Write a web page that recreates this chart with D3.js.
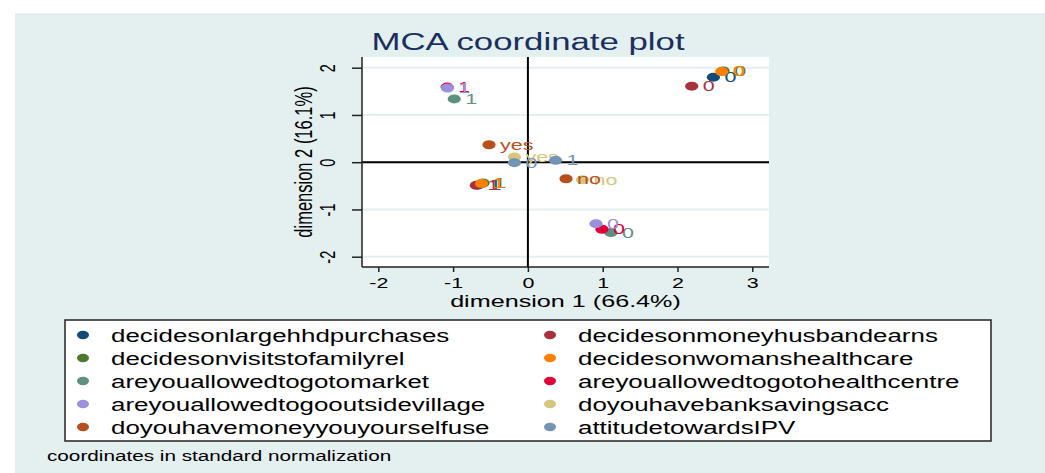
<!DOCTYPE html>
<html>
<head>
<meta charset="utf-8">
<script src="https://cdn.jsdelivr.net/npm/d3@7"></script>
<style>
  html, body { margin: 0; padding: 0; background: #fff; }
  text { font-family: "Liberation Sans", Arial, Helvetica, sans-serif; }
</style>
</head>
<body>
<div id="chart"></div>
<script>
// variables, in Stata plotting order (legend is filled row by row)
const variables = [
  'decidesonlargehhdpurchases', 'decidesonmoneyhusbandearns',
  'decidesonvisitstofamilyrel', 'decidesonwomanshealthcare',
  'areyouallowedtogotomarket', 'areyouallowedtogotohealthcentre',
  'areyouallowedtogooutsidevillage', 'doyouhavebanksavingsacc',
  'doyouhavemoneyyouyourselfuse', 'attitudetowardsIPV'
];
const categories = [
  ['0', '1'], ['0', '1'], ['0', '1'], ['0', '1'], ['0', '1'],
  ['0', '1'], ['0', '1'], ['no', 'yes'], ['no', 'yes'], ['0', '1']
];
const dim1 = [
  [2.48, -0.66], [2.19, -0.69], [2.61, -0.60], [2.59, -0.62], [1.11, -0.985],
  [0.99, -1.08], [0.91, -1.075], [0.73, -0.18], [0.51, -0.52], [-0.18, 0.37]
];
const dim2 = [
  [1.80, -0.48], [1.61, -0.49], [1.93, -0.44], [1.92, -0.45], [-1.49, 1.34],
  [-1.42, 1.59], [-1.30, 1.57], [-0.37, 0.11], [-0.35, 0.37], [-0.01, 0.04]
];
const xTicks = [-2, -1, 0, 1, 2, 3];
const yTicks = [-2, -1, 0, 1, 2];

const colors = ['#114b78', '#a8323c', '#4a7a2a', '#ff8000', '#5e9080',
                '#e0003a', '#9c90dc', '#d4c67e', '#b8501e', '#7494b4'];

const width = 1045, height = 473;
const sx = 1.48; // the whole graph is stretched horizontally
const plot = {left: 362, right: 769, top: 57, bottom: 267};

const svg = d3.select('#chart').append('svg')
  .attr('width', width).attr('height', height);

svg.append('rect').attr('x', 15).attr('y', 13)
  .attr('width', width - 15).attr('height', height - 13)
  .attr('fill', '#e4eff0');

const x = d3.scaleLinear().domain([-2, 3]).range([378.3, 752.3]);
const y = d3.scaleLinear().domain([-2, 2]).range([256.7, 67.7]);

// plot region
svg.append('rect')
  .attr('x', plot.left).attr('y', plot.top)
  .attr('width', plot.right - plot.left).attr('height', plot.bottom - plot.top)
  .attr('fill', '#fff');

// gridlines
svg.append('g').selectAll('line').data(yTicks).enter().append('line')
  .attr('x1', plot.left).attr('x2', plot.right)
  .attr('y1', d => y(d)).attr('y2', d => y(d))
  .attr('stroke', '#e4eff0').attr('stroke-width', 2);

// reference lines at 0
svg.append('line').attr('x1', x(0)).attr('x2', x(0))
  .attr('y1', plot.top).attr('y2', plot.bottom)
  .attr('stroke', '#000').attr('stroke-width', 2);
svg.append('line').attr('x1', plot.left).attr('x2', plot.right)
  .attr('y1', y(0)).attr('y2', y(0))
  .attr('stroke', '#000').attr('stroke-width', 2);

// axes
const xAxis = svg.append('g').attr('transform', `translate(0,${plot.bottom})`)
  .call(d3.axisBottom(x).tickValues(xTicks).tickSize(5).tickFormat(d3.format('d')));
xAxis.select('.domain').attr('d', `M${plot.left},0H${plot.right}`)
  .attr('stroke', '#222').attr('stroke-width', 1.5);
xAxis.selectAll('.tick line').attr('stroke', '#222').attr('stroke-width', 1.5);
xAxis.selectAll('.tick text')
  .attr('y', null).attr('dy', null)
  .attr('font-size', 14.5).attr('fill', '#000')
  .attr('transform', `translate(0,21.3) scale(${sx},1)`)
  .text(d => d < 0 ? '-' + Math.abs(d) : d);

const yAxis = svg.append('g').attr('transform', `translate(${plot.left},0)`)
  .call(d3.axisLeft(y).tickValues(yTicks).tickSize(10).tickFormat(d3.format('d')));
yAxis.select('.domain').attr('d', `M0,${plot.top}V${plot.bottom}`)
  .attr('stroke', '#222').attr('stroke-width', 1.5);
yAxis.selectAll('.tick line').attr('stroke', '#222').attr('stroke-width', 1.5);
yAxis.selectAll('.tick text')
  .attr('x', null).attr('dy', null)
  .attr('font-size', 14.5).attr('fill', '#000')
  .attr('text-anchor', 'middle')
  .attr('transform', `translate(-27,0) scale(${sx},1) rotate(-90)`)
  .text(d => d < 0 ? '-' + Math.abs(d) : d);

// axis titles
svg.append('text')
  .attr('transform', `translate(${(plot.left + plot.right) / 2},306.5) scale(${sx},1)`)
  .attr('text-anchor', 'middle').attr('font-size', 17).attr('fill', '#000')
  .text('dimension 1 (66.4%)');
svg.append('text')
  .attr('transform', `translate(311.5,${(plot.top + plot.bottom) / 2}) scale(${sx},1) rotate(-90)`)
  .attr('text-anchor', 'middle').attr('font-size', 16.5).attr('fill', '#000')
  .text('dimension 2 (16.1%)');

// title
svg.append('text')
  .attr('transform', `translate(528,50) scale(${sx},1)`)
  .attr('text-anchor', 'middle').attr('font-size', 23.5).attr('fill', '#1a2f5e')
  .text('MCA coordinate plot');

// points + marker labels, one series per variable
variables.forEach((v, i) => {
  const pts = categories[i].map((c, j) => ({c: c, d1: dim1[i][j], d2: dim2[i][j]}));
  const g = svg.append('g');
  g.selectAll('ellipse').data(pts).enter().append('ellipse')
    .attr('cx', d => x(d.d1)).attr('cy', d => y(d.d2))
    .attr('rx', 6.6).attr('ry', 4.5)
    .attr('fill', colors[i]);
  g.selectAll('text').data(pts).enter().append('text')
    .attr('transform', d => `translate(${x(d.d1) + 11},${y(d.d2) + 5}) scale(${sx},1)`)
    .attr('font-size', 14.5).attr('fill', colors[i])
    .text(d => d.c);
});

// legend
const legend = svg.append('g');
legend.append('rect').attr('x', 65).attr('y', 320)
  .attr('width', 926).attr('height', 121)
  .attr('fill', '#fff').attr('stroke', '#222').attr('stroke-width', 1.5);
const legendCols = [83, 550];
const rowY = d3.scaleLinear().domain([0, 4]).range([335, 427]);
variables.forEach((v, i) => {
  const cx = legendCols[i % 2], cy = rowY(Math.floor(i / 2));
  legend.append('ellipse').attr('cx', cx).attr('cy', cy)
    .attr('rx', 6).attr('ry', 4.2).attr('fill', colors[i]);
  legend.append('text')
    .attr('transform', `translate(${cx + 28},${cy + 6.5}) scale(${sx},1)`)
    .attr('font-size', 17.5).attr('fill', '#000')
    .text(v);
});

// note
svg.append('text')
  .attr('transform', `translate(47,461) scale(${sx},1)`)
  .attr('font-size', 14).attr('fill', '#000')
  .text('coordinates in standard normalization');
</script>
</body>
</html>
